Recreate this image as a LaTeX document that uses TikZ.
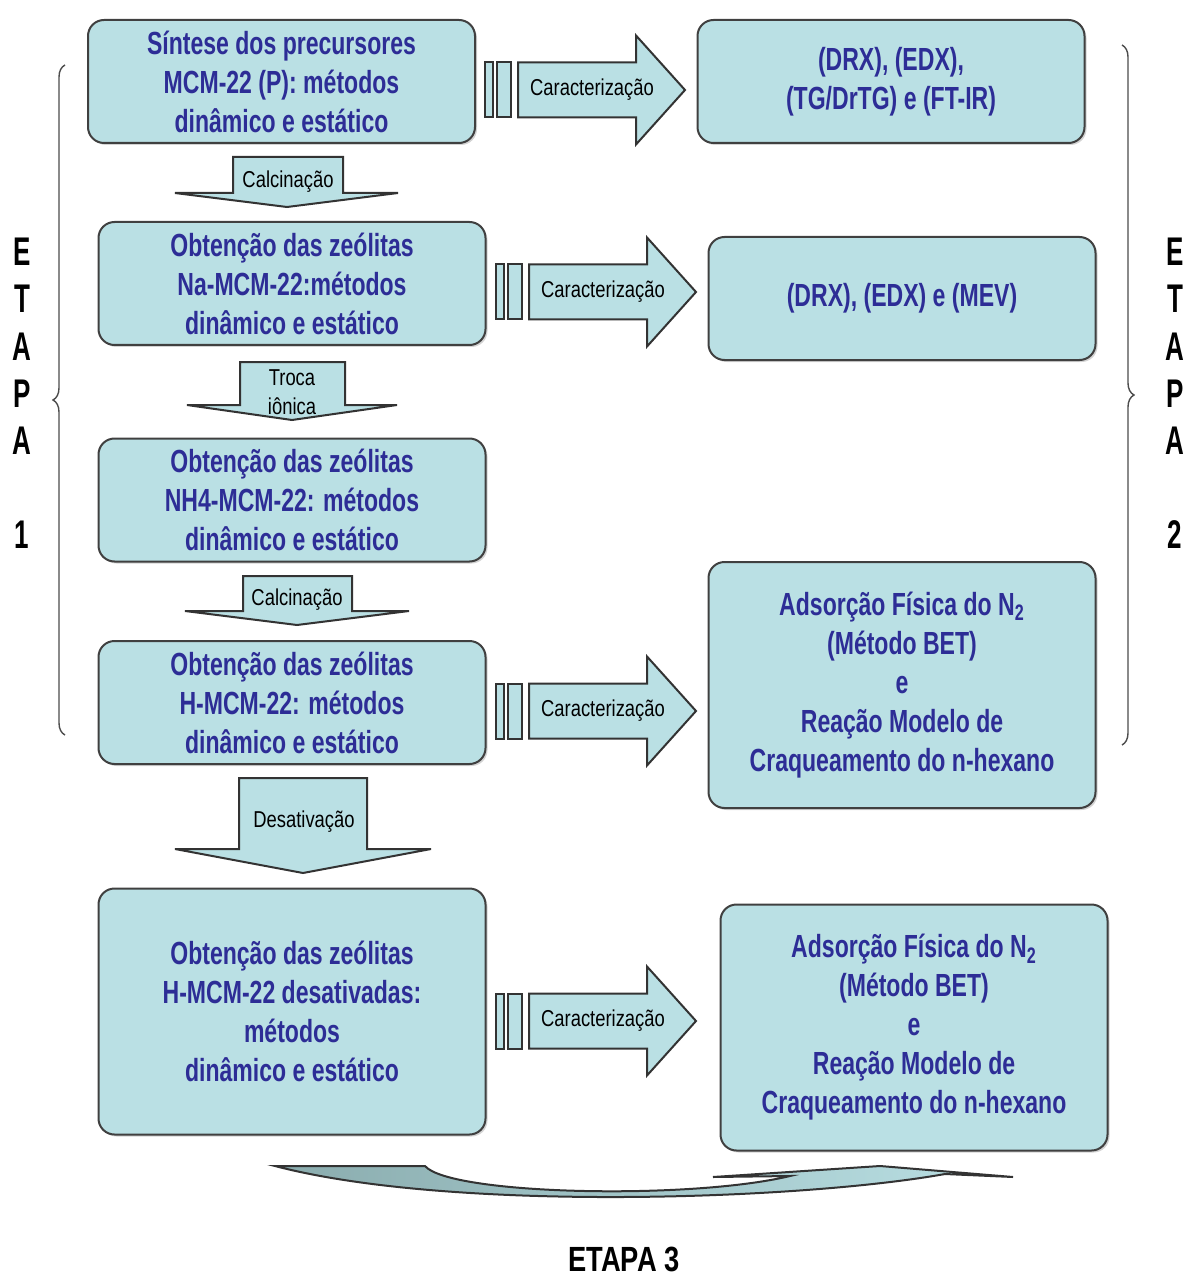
\documentclass[tikz,border=0pt]{standalone}
\usepackage{fontspec}
\setmainfont{Liberation Sans}
\newfontfamily\narrowfont[FakeStretch=0.72]{Liberation Sans}
\newfontfamily\labelfont[FakeStretch=0.80]{Liberation Sans}
\newfontfamily\etapafont[FakeStretch=0.65]{Liberation Sans}
\newfontfamily\etapawidefont[FakeStretch=0.78]{Liberation Sans}
\usetikzlibrary{shadows,decorations.pathreplacing}

\definecolor{boxfill}{RGB}{186,224,228}
\definecolor{boxtext}{RGB}{45,45,150}
\definecolor{arrowdark}{RGB}{138,172,174}

\begin{document}
\begin{tikzpicture}[x=0.5pt,y=-0.5pt]
    \tikzset{
        box/.style={
            draw=black!75,
            line width=1pt,
            fill=boxfill,
            rounded corners=8pt,
            minimum width=193.5pt,
            minimum height=61.5pt,
            align=center,
            text=boxtext,
            font=\narrowfont\bfseries\fontsize{16}{19.5}\selectfont,
            drop shadow={shadow xshift=1pt,shadow yshift=-1pt,opacity=0.35}
        },
        bigbox/.style={box,minimum height=123pt},
        blockarrow/.style={draw=black!80,line width=1pt,fill=boxfill},
        arrowlabel/.style={font=\labelfont\fontsize{11.5}{14.5}\selectfont,align=center},
        etapa/.style={font=\etapafont\bfseries\fontsize{20}{23.6}\selectfont,align=center},
        stagebrace/.style={draw=black!70,line width=0.7pt,decorate,
            decoration={brace,amplitude=6pt}}
    }
    \useasboundingbox (0,0) rectangle (1187,1278);

    % left column
    \node[box] (sint) at (281.5,81.5)
        {Síntese dos precursores\\MCM-22 (P): métodos\\dinâmico e estático};
    \node[box] (na) at (292,283.5)
        {Obtenção das zeólitas\\Na-MCM-22:métodos\\dinâmico e estático};
    \node[box] (nh) at (292,500)
        {Obtenção das zeólitas\\NH4-MCM-22: métodos\\dinâmico e estático};
    \node[box] (hm) at (292,702.5)
        {Obtenção das zeólitas\\H-MCM-22: métodos\\dinâmico e estático};
    \node[bigbox] (des) at (292,1011.5)
        {Obtenção das zeólitas\\H-MCM-22 desativadas:\\métodos\\dinâmico e estático};

    % right column
    \node[box] (car1) at (891,81.5)
        {(DRX), (EDX),\\(TG/DrTG) e (FT-IR)};
    \node[box] (car2) at (902,298.5)
        {(DRX), (EDX) e (MEV)};
    \node[bigbox] (car3) at (902,685)
        {Adsorção Física do N\textsubscript{2}\\(Método BET)\\e\\Reação Modelo de\\Craqueamento do n-hexano};
    \node[bigbox] (car4) at (914,1027.5)
        {Adsorção Física do N\textsubscript{2}\\(Método BET)\\e\\Reação Modelo de\\Craqueamento do n-hexano};

    % down arrows
    \draw[blockarrow] (233,157) -- (343,157) -- (343,193) -- (398,193)
        -- (287,207) -- (175,193) -- (233,193) -- cycle;
    \node[arrowlabel] (calc1) at (288,182) {Calcinação};
    \draw[blockarrow] (240,362) -- (345,362) -- (345,405) -- (397,405)
        -- (292,420) -- (187,405) -- (240,405) -- cycle;
    \node[arrowlabel] (troca) at (292,392) {Troca\\iônica};
    \draw[blockarrow] (243,576) -- (352,576) -- (352,611) -- (409,611)
        -- (297,625) -- (185,611) -- (243,611) -- cycle;
    \node[arrowlabel] (calc2) at (297,600) {Calcinação};
    \draw[blockarrow] (239,778) -- (367,778) -- (367,849) -- (431,849)
        -- (303,873) -- (175,849) -- (239,849) -- cycle;
    \node[arrowlabel] (desat) at (304,822) {Desativação};

    % characterisation arrows
    \foreach \cx/\cy/\name in {485/90/ca1,496/292/ca2,496/711/ca3,496/1021/ca4}{
        \begin{scope}[shift={(\cx,\cy)}]
            \draw[blockarrow] (0,-27.5) rectangle (8,27.5);
            \draw[blockarrow] (12,-27.5) rectangle (26,27.5);
            \draw[blockarrow] (33,-27.5) -- (151,-27.5) -- (151,-54.5)
                -- (200,0) -- (151,54.5) -- (151,27.5) -- (33,27.5) -- cycle;
            \node[arrowlabel] (\name) at (107,0) {Caracterização};
        \end{scope}
    }

    % stages
    \draw[stagebrace] (65,735) -- (65,65);
    \draw[stagebrace] (1122,45) -- (1122,745);
    \node[etapa] (et1) at (22,393.5) {E\\T\\A\\P\\A\\ \\1};
    \node[etapa] (et2) at (1175,393.5) {E\\T\\A\\P\\A\\ \\2};

    \draw[draw=black!80,line width=1pt,left color=arrowdark,right color=boxfill]
        (275,1166) -- (425,1166)
        .. controls (450,1195) and (690,1200) .. (790,1176)
        -- (713,1177) -- (880,1166) -- (1013,1177) -- (945,1174)
        .. controls (800,1200) and (450,1212) .. (275,1166) -- cycle;
    \node[etapa,font=\etapawidefont\bfseries\fontsize{17.5}{20}\selectfont]
        (et3) at (624,1259.5) {ETAPA 3};
\end{tikzpicture}
\end{document}
